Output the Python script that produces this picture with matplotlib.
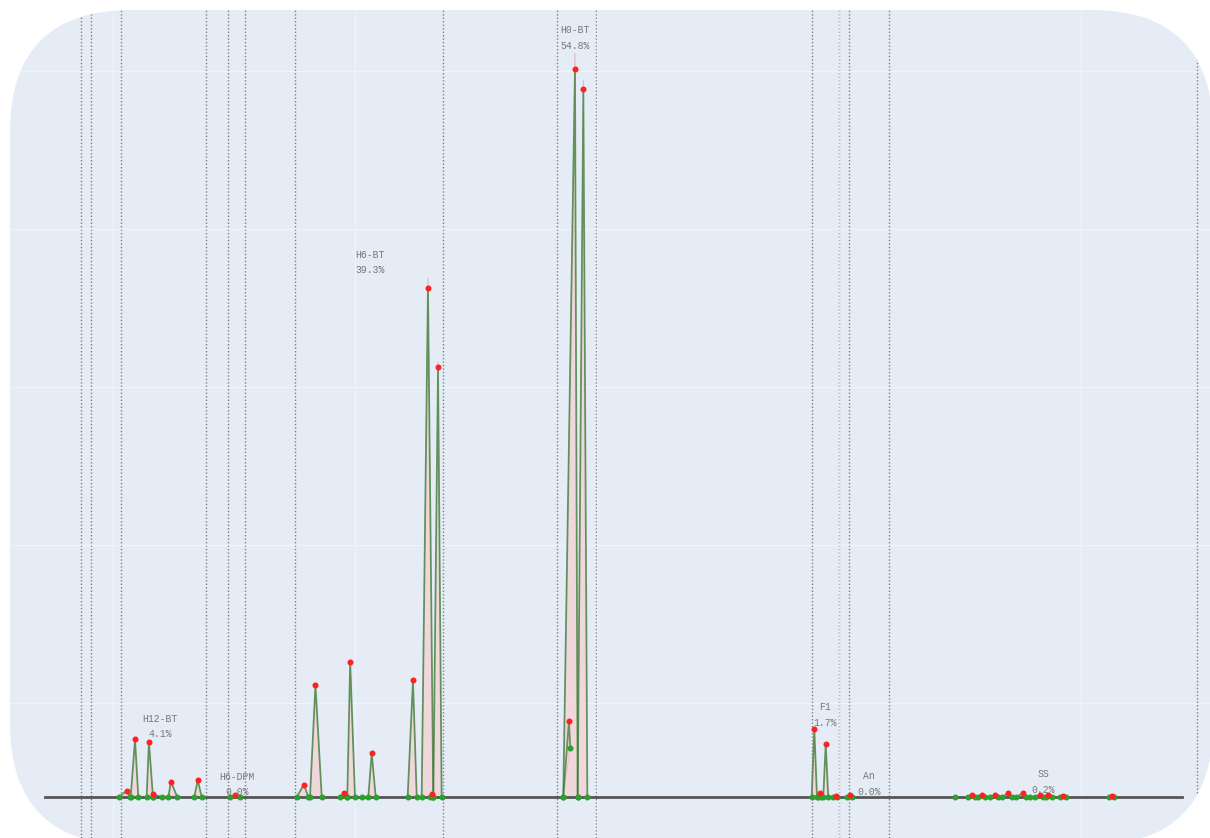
import matplotlib.pyplot as plt
from matplotlib.patches import FancyBboxPatch

# retention time (min) and signal (mAU)
peak_start = [4.049, 4.146, 4.278, 4.330, 4.457, 4.672, 4.967,
              5.518, 5.628, 5.876, 5.936, 6.110, 6.435, 6.551, 6.620, 6.647,
              7.721, 7.721, 7.840,
              9.774, 9.830, 9.870, 9.953, 10.064,
              11.066, 11.149, 11.248, 11.347, 11.463, 11.620, 11.711, 11.826, 12.231]
peak_apex = [4.113, 4.182, 4.297, 4.333, 4.479, 4.700, 5.008,
             5.578, 5.673, 5.909, 5.960, 6.138, 6.479, 6.603, 6.634, 6.686,
             7.768, 7.818, 7.887,
             9.796, 9.843, 9.890, 9.973, 10.091,
             11.097, 11.179, 11.289, 11.399, 11.518, 11.661, 11.730, 11.854, 12.254]
peak_end = [4.140, 4.209, 4.330, 4.402, 4.531, 4.733, 5.049,
            5.614, 5.725, 5.931, 6.000, 6.171, 6.510, 6.647, 6.647, 6.716,
            7.779, 7.840, 7.920,
            9.818, 9.855, 9.911, 9.986, 10.105,
            11.124, 11.206, 11.314, 11.430, 11.545, 11.686, 11.760, 11.876, 12.273]
peak_height = [8.0, 73.0, 70.0, 3.4, 19.4, 21.5, 2.5,
               15.8, 141.8, 5.4, 170.9, 55.3, 147.7, 644.3, 3.4, 544.3,
               96.6, 921.5, 896.2,
               86.1, 5.4, 66.7, 1.6, 2.5,
               2.0, 2.0, 2.5, 5.1, 4.7, 2.0, 2.0, 1.5, 1.5]
signal_top = [8.0, 73.0, 70.0, 3.4, 19.4, 21.5, 2.5,
              15.8, 141.8, 5.4, 170.9, 55.3, 147.7, 657.0, 3.4, 550.6,
              96.6, 941.8, 907.6,
              86.1, 5.4, 66.7, 1.6, 2.5,
              2.0, 2.0, 2.5, 5.1, 4.7, 2.0, 2.0, 1.5, 1.5]
end_level = [0] * 16 + [62.4] + [0] * 16
extra_base = [6.055, 10.959, 11.578]

region_bounds = [3.735, 3.818, 4.066, 4.768, 4.950, 5.091, 5.504, 6.727,
                 7.669, 7.992, 9.777, 10.000, 10.083, 10.413, 12.959]

labels = ['H12-BT\n4.1%', 'H6-DPM\n0.0%', 'H6-BT\n39.3%', 'H0-BT\n54.8%',
          'F1\n1.7%', 'An\n0.0%', 'SS\n0.2%']
label_x = [4.388, 5.025, 6.124, 7.818, 9.884, 10.248, 11.686]
label_y = [89.2, 15.8, 676.6, 960.8, 103.8, 16.5, 19.0]

baseline_x = [3.438, 12.835]

fig = plt.figure(figsize=(12.1, 8.38), dpi=100)

bg = fig.add_axes([0, 0, 1, 1])
bg.set_xlim(0, 1210)
bg.set_ylim(838, 0)
bg.axis('off')
panel = FancyBboxPatch((10, 10), 1203, 835, boxstyle='round,pad=0,rounding_size=122',
                       fc='#E5ECF6', ec='none')
bg.add_patch(panel)

ax = fig.add_axes([0, 0, 1, 1])
ax.patch.set_alpha(0)
ax.set_xlim(3.066, 13.066)
ax.set_ylim(-51.9, 1008.9)
ax.set_xticks([4, 6, 8, 10, 12])
ax.set_yticks([119, 319, 519, 719, 919])
ax.tick_params(length=0, labelbottom=False, labelleft=False)
for s in ax.spines.values():
    s.set_visible(False)
ax.grid(True, color='white', lw=0.9, alpha=0.45)
for g in ax.get_xgridlines() + ax.get_ygridlines():
    g.set_clip_path(panel)

for b in region_bounds:
    ln = ax.axvline(b, color='#808080', lw=1, ls=(0, (1, 1.5)), zorder=1)
    ln.set_clip_path(panel)

for i in range(len(peak_apex)):
    s, a, e = peak_start[i], peak_apex[i], peak_end[i]
    ax.fill([s, a, e], [0, signal_top[i], end_level[i]], color='#f9c9c9', alpha=0.6,
            ec='#d98c8c', lw=0.6, zorder=2)
    ax.plot([s, a, e], [0, peak_height[i], end_level[i]], color='#2e7d32', lw=1.3,
            alpha=0.7, zorder=3)

ax.plot(baseline_x, [0, 0], color='#555555', lw=2, zorder=4)

ax.plot(peak_start, [0] * len(peak_start), 'o', color='#2ca02c', ms=3.3, zorder=5)
ax.plot(peak_end, end_level, 'o', color='#2ca02c', ms=3.3, zorder=5)
ax.plot(extra_base, [0] * len(extra_base), 'o', color='#2ca02c', ms=3.3, zorder=5)
ax.plot(peak_apex, peak_height, 'o', color='#ff2020', ms=3.3, zorder=6)

for t, x, y in zip(labels, label_x, label_y):
    ax.text(x, y, t, ha='center', va='center', fontsize=7, color='#777777',
            family='Liberation Mono', linespacing=1.7, zorder=7)

fig.savefig('out.png', dpi=100)
